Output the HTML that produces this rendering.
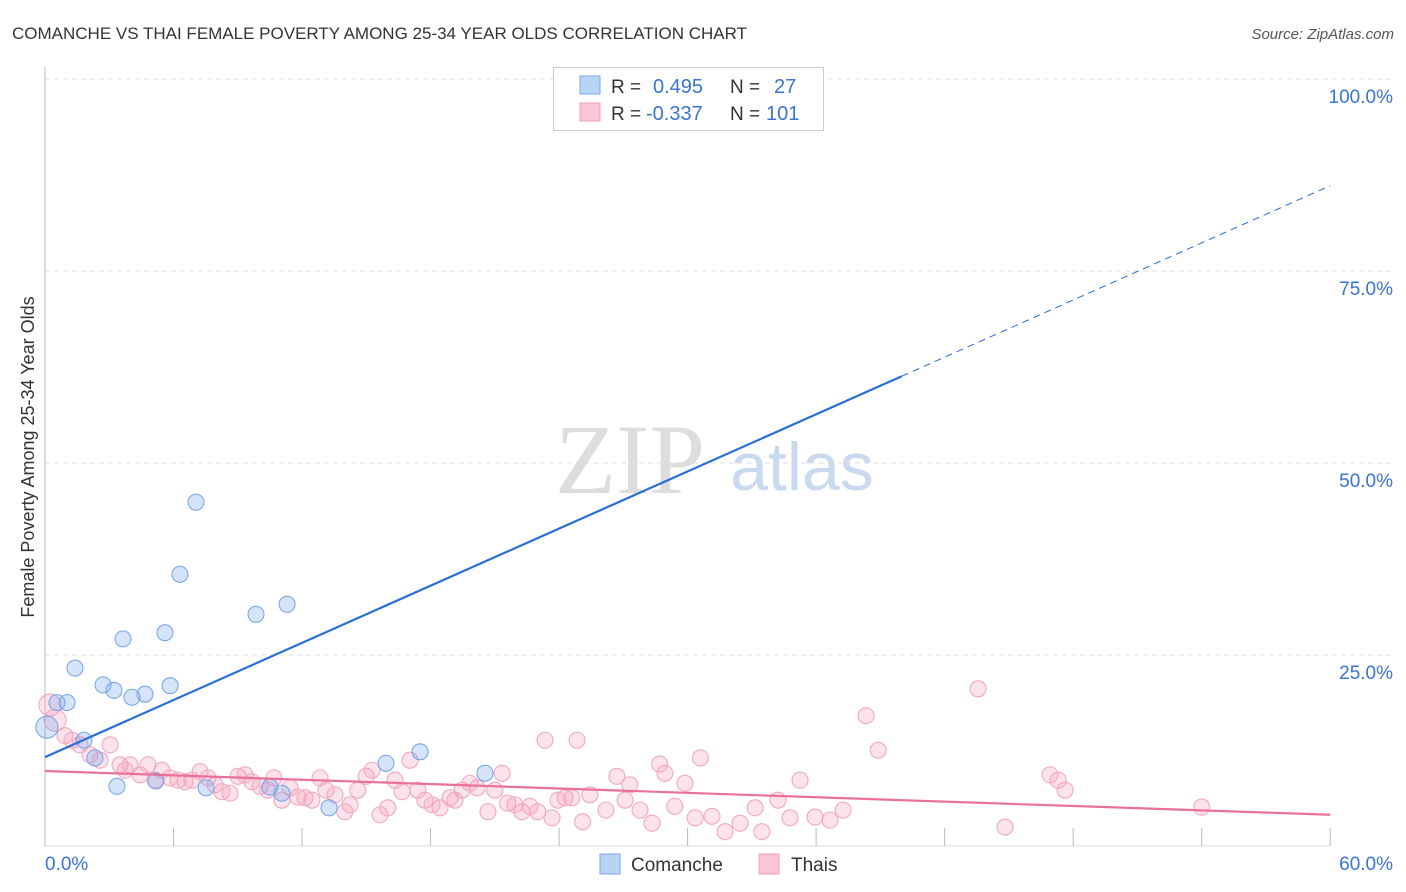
<!DOCTYPE html>
<html><head><meta charset="utf-8"><style>
body{margin:0;background:#fff;font-family:"Liberation Sans",sans-serif;}
#wrap{position:relative;width:1406px;height:892px;overflow:hidden;}
</style></head><body>
<div id="wrap">
<svg id="svg" width="1406" height="892" xmlns="http://www.w3.org/2000/svg">
<text x="12" y="39" font-size="17" fill="#333">COMANCHE VS THAI FEMALE POVERTY AMONG 25-34 YEAR OLDS CORRELATION CHART</text>
<text x="1394" y="39" font-size="15" fill="#555" font-style="italic" text-anchor="end">Source: ZipAtlas.com</text>
<text x="0" y="0" transform="translate(34,457) rotate(-90)" font-size="18" fill="#333" text-anchor="middle">Female Poverty Among 25-34 Year Olds</text>
<g>
<text x="630" y="493" font-family="Liberation Serif,serif" font-size="100" fill="#ddd" text-anchor="middle">ZIP</text>
<text x="802" y="490" font-size="68" fill="#c9d9f0" text-anchor="middle">atlas</text>
</g>
<g id="grid"></g><g id="pts"></g><g id="lines"></g>
<g>
<rect x="553.5" y="67.5" width="270" height="63" fill="#fff" stroke="#ccc"/>
<rect x="580" y="76" width="20" height="18" fill="#b9d3f5" stroke="#7aa8e8"/>
<rect x="580" y="103" width="20" height="18" fill="#fac6d6" stroke="#f0a0bc"/>
<text x="611" y="93" font-size="19" fill="#333">R = </text><text x="653" y="93" font-size="20" fill="#3a74d4">0.495</text>
<text x="730" y="93" font-size="19" fill="#333">N = </text><text x="774" y="93" font-size="20" fill="#3a74d4">27</text>
<text x="611" y="120" font-size="19" fill="#333">R = </text><text x="646" y="120" font-size="20" fill="#3a74d4">-0.337</text>
<text x="730" y="120" font-size="19" fill="#333">N = </text><text x="766" y="120" font-size="20" fill="#3a74d4">101</text>
</g>
<g>
<rect x="600" y="854" width="20" height="20" fill="#b9d3f5" stroke="#7aa8e8"/>
<text x="631" y="871" font-size="19" fill="#333">Comanche</text>
<rect x="759" y="854" width="20" height="20" fill="#fac6d6" stroke="#f0a0bc"/>
<text x="791" y="871" font-size="19" fill="#333">Thais</text>
</g>
</svg>
<script>
const yTicks=[25,50,75,100];
const xTickLabels=["0.0%","60.0%"];
const blueX=[0.09,0.56,1.03,1.4,1.82,2.33,2.71,3.22,3.36,3.64,4.06,4.67,5.18,5.6,5.84,6.3,7.05,7.52,9.85,10.5,11.06,11.3,13.26,15.92,17.51,20.54,33.38];
const blueY=[15.6,18.8,18.8,23.3,13.9,11.6,21.1,20.4,7.9,27.1,19.5,19.9,8.6,27.9,21.0,35.5,44.9,7.7,30.3,7.8,7.0,31.6,5.1,10.9,12.4,9.6,100];
const pinkX=[0.23,0.47,0.93,1.26,1.63,2.1,2.57,3.04,3.5,3.74,3.97,4.44,4.81,5.14,5.46,5.84,6.21,6.54,6.86,7.24,7.61,7.94,8.26,8.64,9.01,9.34,9.66,10.04,10.41,10.69,11.06,11.44,11.81,12.14,12.46,12.84,13.12,13.54,14.0,14.24,14.6,15.0,15.27,15.64,16.0,16.34,16.67,17.04,17.41,17.74,18.07,18.44,18.91,19.14,19.47,19.84,20.17,20.68,21.0,21.34,21.6,21.94,22.27,22.64,23.0,23.34,23.67,23.95,24.28,24.6,24.84,25.1,25.44,26.19,26.7,27.08,27.3,27.78,28.34,28.7,28.94,29.4,29.88,30.35,30.6,31.14,31.75,32.45,33.15,33.47,34.22,34.78,35.25,35.95,36.65,37.26,38.33,38.9,43.56,44.82,46.92,47.3,47.62,54.0];
const pinkY=[18.5,16.5,14.5,13.9,13.3,12.0,11.3,13.3,10.7,10.0,10.7,9.4,10.7,8.7,10.0,9.0,8.7,8.5,8.7,9.8,9.0,8.1,7.2,7.0,9.2,9.4,8.5,7.9,7.4,9.0,6.1,7.7,6.5,6.4,6.1,9.0,7.4,6.8,4.6,5.5,7.4,9.2,10.0,4.2,5.1,8.7,7.2,11.3,7.4,6.1,5.5,5.1,6.4,6.1,7.4,8.3,7.7,4.6,7.4,9.6,5.7,5.5,4.6,5.3,4.6,13.9,3.8,6.1,6.4,6.4,13.9,3.3,6.8,4.8,9.2,6.1,8.1,4.8,3.1,10.8,9.6,5.3,8.3,3.8,11.6,4.0,2.0,3.1,5.1,2.0,6.1,3.8,8.7,3.9,3.5,4.8,17.1,12.6,20.6,2.6,9.4,8.7,7.4,5.2];
const blueLine=[11.7,1.24];
const pinkLine=[9.9,-0.095];
const sx=v=>45+v*21.42, sy=v=>847-v*7.68;
const NS="http://www.w3.org/2000/svg";
function mk(t,a,p){const e=document.createElementNS(NS,t);for(const k in a)e.setAttribute(k,a[k]);p.appendChild(e);return e;}
const grid=document.getElementById('grid');
mk('line',{x1:45,y1:67,x2:45,y2:847,stroke:'#bbb'},grid);
mk('line',{x1:45,y1:846,x2:1330,y2:846,stroke:'#ddd'},grid);
for(let i=0;i<=10;i++){const l=mk('line',{x1:sx(i*6),y1:828,x2:sx(i*6),y2:846,stroke:'#bbb'},grid);

}
yTicks.forEach(t=>{const l=mk('line',{x1:45,y1:sy(t),x2:1392,y2:sy(t),stroke:'#ddd','stroke-dasharray':'5,4'},grid);


const tx=mk('text',{x:1393,y:sy(t)+24,'font-size':19,fill:'#3a74d4','text-anchor':'end'},grid);tx.textContent=t.toFixed(1)+'%';

});
const xl0=mk('text',{x:45,y:870,'font-size':19,fill:'#3a74d4'},grid);xl0.textContent=xTickLabels[0];


const xl1=mk('text',{x:1393,y:870,'font-size':19,fill:'#3a74d4','text-anchor':'end'},grid);xl1.textContent=xTickLabels[1];


const pts=document.getElementById('pts');
pinkX.forEach((x,i)=>{const c=mk('circle',{cx:sx(x),cy:sy(pinkY[i]),r:i<2?11:8,fill:'rgba(244,160,190,0.3)',stroke:'#f2a8c2','stroke-width':1.1},pts);

});
blueX.forEach((x,i)=>{const c=mk('circle',{cx:sx(x),cy:sy(blueY[i]),r:i==0?11:8,fill:'rgba(120,165,235,0.3)',stroke:'#7aa8e8','stroke-width':1.1},pts);

});
const lines=document.getElementById('lines');
const f=(L,x)=>L[0]+L[1]*x;
const b1=mk('line',{x1:sx(0),y1:sy(f(blueLine,0)),x2:sx(40),y2:sy(f(blueLine,40)),stroke:'#2a6fd6','stroke-width':2.2},lines);


const b2=mk('line',{x1:sx(40),y1:sy(f(blueLine,40)),x2:sx(60),y2:sy(f(blueLine,60)),stroke:'#2a6fd6','stroke-width':1,'stroke-dasharray':'7,5'},lines);


const p1=mk('line',{x1:sx(0),y1:sy(f(pinkLine,0)),x2:sx(60),y2:sy(f(pinkLine,60)),stroke:'#e8709a','stroke-width':2.2},lines);


</script>
</div>
</body></html>
